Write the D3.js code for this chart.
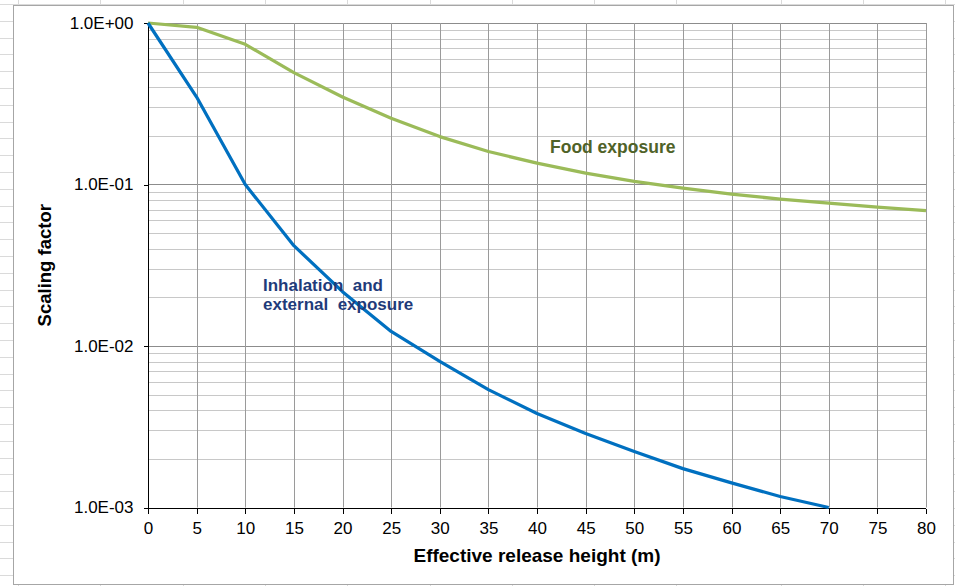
<!DOCTYPE html>
<html>
<head>
<meta charset="utf-8">
<script src="https://cdn.jsdelivr.net/npm/d3@7"></script>
<style>
  body { margin: 0; background: #fff; }
  svg { display: block; font-family: "Liberation Sans", Arial, sans-serif; }
  .grid-v line { stroke: #9a9a9a; stroke-width: 1; }
  .grid-major line { stroke: #8c8c8c; stroke-width: 1; }
  .grid-minor line { stroke: #c8c8c8; stroke-width: 1; }
  .axis path, .axis line { stroke: #000; shape-rendering: crispEdges; }
  .axis text { font-size: 17px; fill: #000; }
</style>
</head>
<body>
<div id="chart"></div>
<script>
// release heights (m)
const heights = [0, 5, 10, 15, 20, 25, 30, 35, 40, 45, 50, 55, 60, 65, 70, 75, 80];

// scaling factors
const inhalation = [1.0, 0.348, 0.100, 0.0418, 0.0217, 0.0123, 0.00803, 0.00537,
    0.00382, 0.00287, 0.00222, 0.00174, 0.00142, 0.00117, 0.00100];
const food = [1.0, 0.941, 0.738, 0.493, 0.348, 0.257, 0.198, 0.160, 0.1356,
    0.1175, 0.1046, 0.0950, 0.0872, 0.0812, 0.0767, 0.0724, 0.0690];

const yTicks = [1e-3, 1e-2, 1e-1, 1];
const yTickLabels = ["1.0E-03", "1.0E-02", "1.0E-01", "1.0E+00"];
const xTicks = [0, 5, 10, 15, 20, 25, 30, 35, 40, 45, 50, 55, 60, 65, 70, 75, 80];

const W = 955, H = 586;
const margin = {top: 23, right: 29, bottom: 78, left: 148};

let svg = d3.select("#chart").append("svg")
    .attr("width", W)
    .attr("height", H);

// faint spreadsheet cells behind the chart
let sheet = svg.append("g").attr("class", "sheet");
for (let y = 4; y < H; y += 16.8) {
    sheet.append("line").attr("x1", 0).attr("x2", W)
        .attr("y1", Math.round(y) + 0.5).attr("y2", Math.round(y) + 0.5)
        .attr("stroke", "#dadada");
}
[18, 100, 183, 265, 347, 430, 512, 594, 676, 781, 863, 945].forEach(x => {
    sheet.append("line").attr("x1", x + 0.5).attr("x2", x + 0.5)
        .attr("y1", 0).attr("y2", H).attr("stroke", "#dadada");
});

// chart area
svg.append("rect")
    .attr("x", 13.5).attr("y", 5.5)
    .attr("width", 940).attr("height", 579)
    .attr("fill", "#fff")
    .attr("stroke", "#a6a6a6");

let x = d3.scaleLinear()
    .domain([0, 80])
    .range([margin.left, W - margin.right]);

let y = d3.scaleLog()
    .domain([1e-3, 1])
    .range([H - margin.bottom - 0.5, margin.top]);

// minor horizontal grid (2..9 in each decade)
let minor = [];
[1e-3, 1e-2, 1e-1].forEach(d => {
    for (let k = 2; k <= 9; k++) minor.push(d * k);
});

svg.append("g").attr("class", "grid-minor")
    .selectAll("line").data(minor).enter().append("line")
    .attr("x1", x(0)).attr("x2", x(80))
    .attr("y1", d => Math.round(y(d)) + 0.5)
    .attr("y2", d => Math.round(y(d)) + 0.5);

svg.append("g").attr("class", "grid-major")
    .selectAll("line").data(yTicks).enter().append("line")
    .attr("x1", x(0)).attr("x2", x(80))
    .attr("y1", d => Math.round(y(d)) + 0.5)
    .attr("y2", d => Math.round(y(d)) + 0.5);

svg.append("g").attr("class", "grid-v")
    .selectAll("line").data(xTicks).enter().append("line")
    .attr("x1", d => Math.round(x(d)) + 0.5)
    .attr("x2", d => Math.round(x(d)) + 0.5)
    .attr("y1", y(1)).attr("y2", y(1e-3));

// axes
let xAxis = d3.axisBottom(x)
    .tickValues(xTicks)
    .tickSize(5)
    .tickPadding(8)
    .tickFormat(d3.format("d"));

let yAxis = d3.axisLeft(y)
    .tickValues(yTicks)
    .tickSize(5)
    .tickPadding(10)
    .tickFormat((d, i) => yTickLabels[i]);

svg.append("g").attr("class", "x-axis axis")
    .attr("transform", "translate(0," + (Math.round(y(1e-3)) + 0.5) + ")")
    .call(xAxis)
    .call(g => g.select(".domain").attr("d", "M" + x(0) + ",0H" + x(80)))
    .selectAll("text").attr("font-family", null);

svg.append("g").attr("class", "y-axis axis")
    .attr("transform", "translate(" + (x(0) + 0.5) + ",0)")
    .call(yAxis)
    .call(g => g.select(".domain").attr("d", "M0," + y(1) + "V" + y(1e-3)))
    .selectAll("text").attr("font-family", null);

// lines
let line = d3.line()
    .x((d, i) => x(heights[i]))
    .y(d => y(d));

svg.append("path")
    .datum(food)
    .attr("fill", "none")
    .attr("stroke", "#9bbb59")
    .attr("stroke-width", 3.25)
    .attr("stroke-linejoin", "round")
    .attr("d", line);

svg.append("path")
    .datum(inhalation)
    .attr("fill", "none")
    .attr("stroke", "#0070c0")
    .attr("stroke-width", 3.25)
    .attr("stroke-linejoin", "round")
    .attr("d", line);

// labels
svg.append("text")
    .attr("x", 550).attr("y", 153)
    .attr("font-size", 17.5).attr("font-weight", "bold")
    .attr("fill", "#4f6228")
    .text("Food exposure");

let inh = svg.append("text")
    .attr("font-size", 17).attr("font-weight", "bold")
    .attr("fill", "#1f3b7a")
    .style("white-space", "pre");
inh.append("tspan").attr("x", 263).attr("y", 291).text("Inhalation  and");
inh.append("tspan").attr("x", 263).attr("y", 310).text("external  exposure");

// axis titles
svg.append("text")
    .attr("x", (x(0) + x(80)) / 2)
    .attr("y", 562)
    .attr("text-anchor", "middle")
    .attr("font-size", 19).attr("font-weight", "bold")
    .text("Effective release height (m)");

svg.append("text")
    .attr("transform", "translate(51," + ((y(1) + y(1e-3)) / 2) + ") rotate(-90)")
    .attr("text-anchor", "middle")
    .attr("font-size", 18.5).attr("font-weight", "bold")
    .text("Scaling factor");
</script>
</body>
</html>
